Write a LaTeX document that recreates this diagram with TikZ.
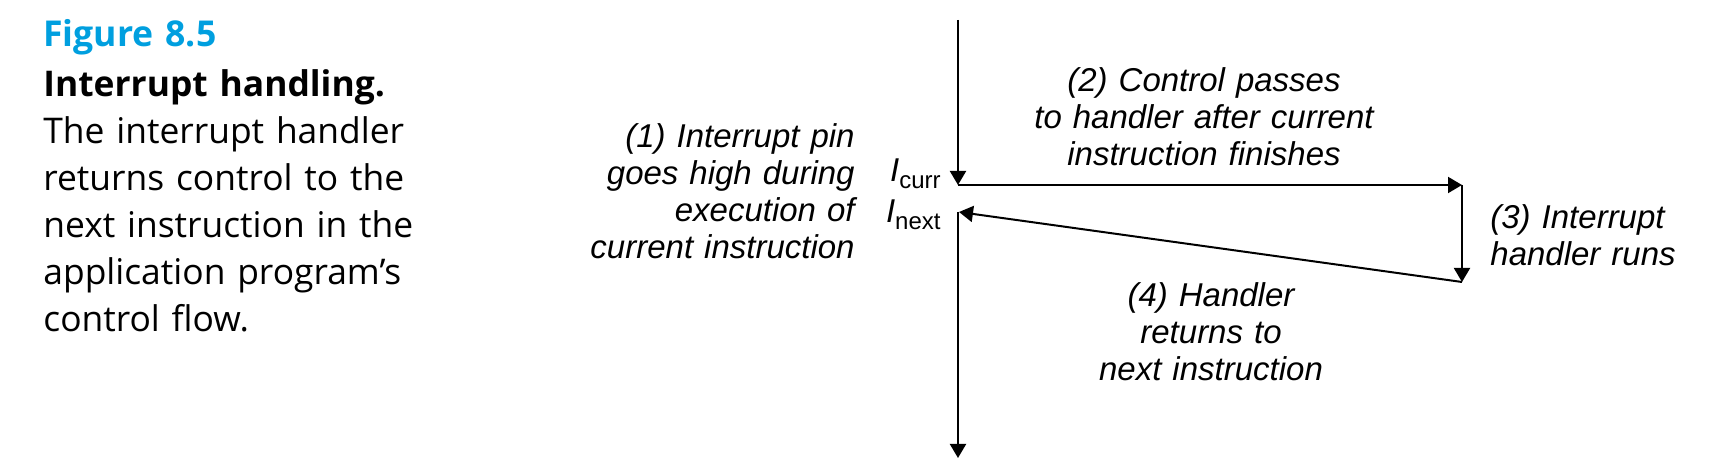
\documentclass[tikz,border=0pt]{standalone}
\usepackage{fontspec}
\setmainfont{Liberation Sans}
\newfontfamily\capfont{Open Sans}
\usetikzlibrary{arrows.meta}
\definecolor{figblue}{RGB}{0,159,223}
\begin{document}
\begin{tikzpicture}[x=0.5pt,y=-0.5pt,
  flow/.style={line width=1pt,-{Triangle[length=7pt,width=8pt]}},
  lbl/.style={inner sep=0pt,font=\fontsize{16.5}{18.5}\selectfont\itshape},
  ilbl/.style={inner sep=0pt,font=\fontsize{16.5}{18.5}\selectfont},
  captxt/.style={inner sep=0pt,font=\capfont\fontsize{17.7}{23.5}\selectfont,text width=200pt,align=left,anchor=base west}]
\useasboundingbox (0,0) rectangle (1710,474);
% caption
\node[captxt,font=\capfont\bfseries\fontsize{17.8}{20}\selectfont,text=figblue] (fig) at (43,47) {Figure 8.5};
\node[captxt] (cap) at (43,97) {\textbf{Interrupt handling.}\\The interrupt handler\\returns control to the\\next instruction in the\\application program’s\\control flow.};
% coordinates
\coordinate (top) at (958,20);
\coordinate (curr) at (958,185);
\coordinate (hs) at (1462,185);
\coordinate (he) at (1462,282);
\coordinate (next) at (958,212);
\coordinate (nx) at (959,212);
\coordinate (bot) at (958,458);
\draw[flow] (top) -- (curr);
\draw[flow] (curr) -- (hs);
\draw[flow] (hs) -- (he);
\draw[flow] (he) -- (nx);
\draw[flow] (next) -- (bot);
% labels
\node[ilbl,anchor=base east] (icurr) at (941,182) {\textit{I}\raisebox{-0.35ex}{\fontsize{12}{12}\selectfont curr}};
\node[ilbl,anchor=base east] (inext) at (941,223) {\textit{I}\raisebox{-0.35ex}{\fontsize{12}{12}\selectfont next}};
\node[lbl,text width=140pt,align=right,anchor=base east] (l1) at (855,148) {(1) Interrupt pin\\goes high during\\execution of\\current instruction};
\node[lbl,text width=170pt,align=center,anchor=base] (l2) at (1204,92) {(2) Control passes\\to handler after current\\instruction finishes};
\node[lbl,text width=110pt,align=left,anchor=base west] (l3) at (1490,229) {(3) Interrupt\\handler runs};
\node[lbl,text width=150pt,align=center,anchor=base] (l4) at (1211,307) {(4) Handler\\returns to\\next instruction};
\end{tikzpicture}
\end{document}
